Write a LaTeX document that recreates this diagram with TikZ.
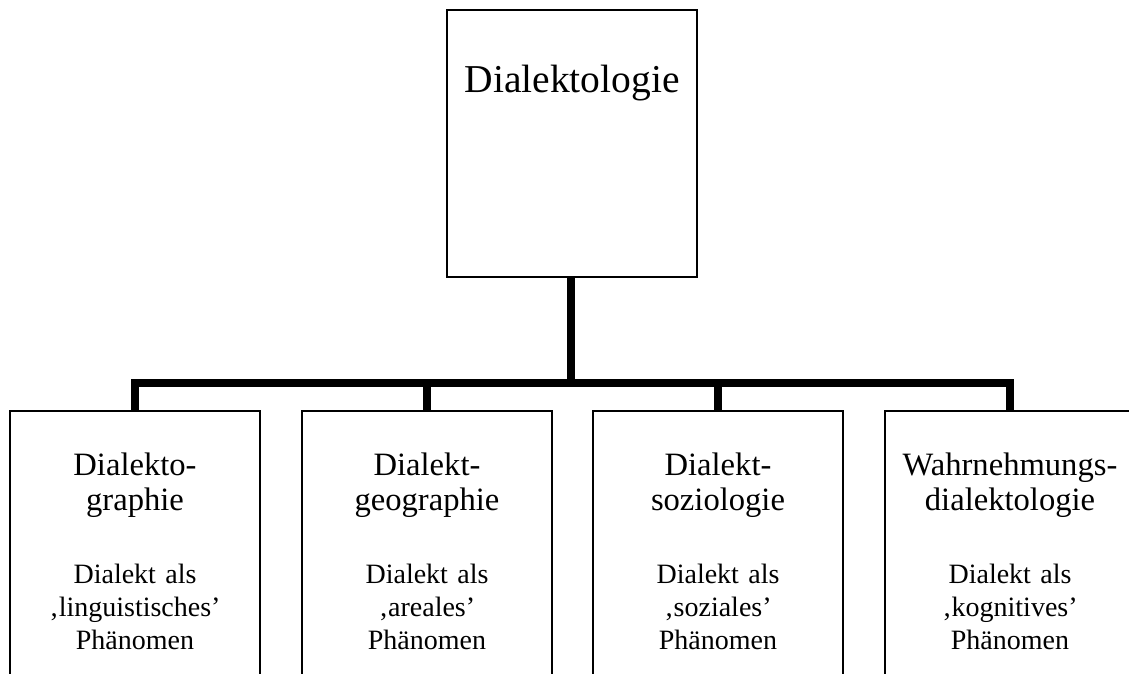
\documentclass[tikz,border=0pt]{standalone}
\usepackage{fontspec}
\setmainfont{Liberation Serif}
\begin{document}
\begin{tikzpicture}[x=1pt,y=-1pt,
  box/.style={draw=black,line width=2.2pt,minimum width=250pt,inner sep=0pt},
  topbox/.style={box,minimum height=267pt},
  subbox/.style={box,minimum height=300pt},
  conn/.style={line width=8pt,line join=miter},
  toplbl/.style={anchor=base,inner sep=0pt,font=\fontsize{39.5}{44}\selectfont},
  headlbl/.style={anchor=base,inner sep=0pt,text width=250pt,align=center,font=\fontsize{32.6}{35}\selectfont},
  bodylbl/.style={anchor=base,inner sep=0pt,text width=250pt,align=center,font=\fontsize{28}{33}\selectfont}]
\clip (0,0) rectangle (1129,674);
\fill[white] (0,0) rectangle (1129,674);
\node[topbox] (top) at (572,143.5) {};
\node[toplbl] (toptext) at (572,93) {Dialektologie};
\node[subbox] (b1) at (135,561) {};
\node[subbox] (b2) at (427,561) {};
\node[subbox] (b3) at (718,561) {};
\node[subbox] (b4) at (1010,561) {};
\coordinate (hub) at (571,383);
\draw[conn] (top.south -| hub) -- (hub);
\draw[conn] (b1.north) |- (hub) -| (b4.north);
\draw[conn] (b2.north) -- (b2.north |- hub);
\draw[conn] (b3.north) -- (b3.north |- hub);
\node[headlbl] (h1) at (135,475) {Dialekto-\\graphie};
\node[headlbl] (h2) at (427,475) {Dialekt-\\geographie};
\node[headlbl] (h3) at (718,475) {Dialekt-\\soziologie};
\node[headlbl] (h4) at (1010,475) {Wahrnehmungs-\\dialektologie};
\node[bodylbl] (d1) at (135,583) {Dialekt als\\‚linguistisches’\\Phänomen};
\node[bodylbl] (d2) at (427,583) {Dialekt als\\‚areales’\\Phänomen};
\node[bodylbl] (d3) at (718,583) {Dialekt als\\‚soziales’\\Phänomen};
\node[bodylbl] (d4) at (1010,583) {Dialekt als\\‚kognitives’\\Phänomen};
\end{tikzpicture}
\end{document}
